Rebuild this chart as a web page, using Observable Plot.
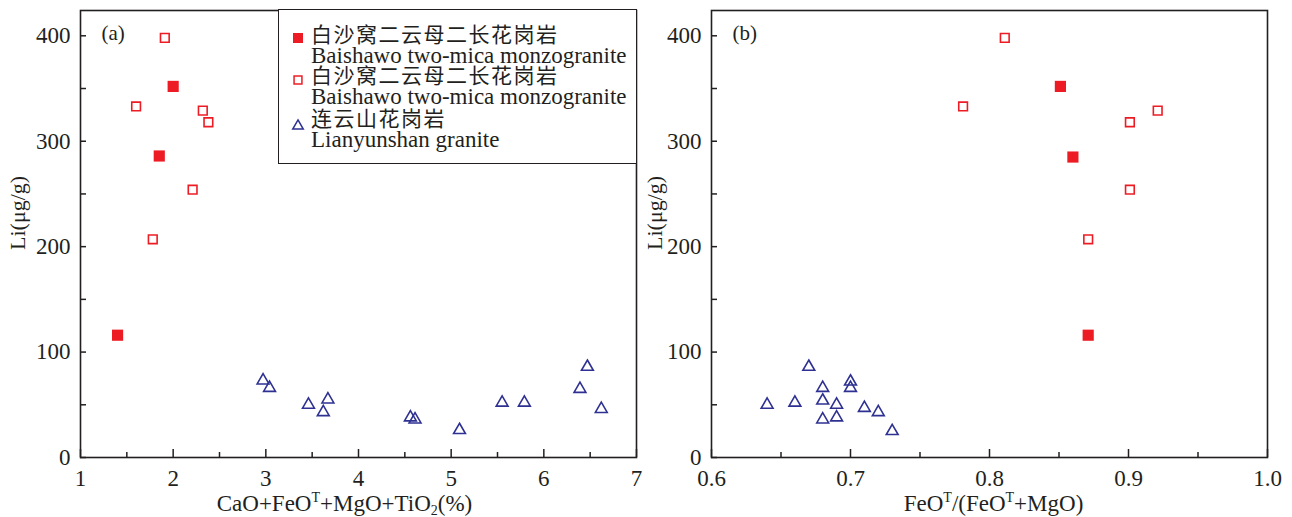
<!DOCTYPE html>
<html><head><meta charset="utf-8">
<script src="https://cdn.jsdelivr.net/npm/d3@7"></script>
<script src="https://cdn.jsdelivr.net/npm/@observablehq/plot@0.6"></script>
<style>
body{margin:0;background:#fff;}
#wrap{position:relative;width:1292px;height:517px;overflow:hidden;background:#fff}
#pa,#pb{position:absolute;top:0}
#pa{left:0}
#pb{left:646px}
#wrap svg text{font-family:"Liberation Serif",serif}
#legend{position:absolute;left:278px;top:9px;width:359px;height:155px;border:1.5px solid #231f20;box-sizing:border-box;background:#fff;color:#231f20}
#legend .zh{position:absolute;left:32px;font-family:"Noto Sans CJK SC",sans-serif;font-size:21px;line-height:20px;letter-spacing:1.5px;white-space:nowrap}
#legend .en{position:absolute;left:32px;font-family:"Liberation Serif",serif;font-size:23px;line-height:20px;white-space:nowrap}
#legend svg{position:absolute}
</style></head>
<body>
<div id="wrap"><div id="pa"></div><div id="pb"></div><div id="legend"></div></div>
<script>
// ---------- data ----------
const seriesNames = ["白沙窝二云母二长花岗岩", "白沙窝二云母二长花岗岩", "连云山花岗岩"];
const seriesNamesEn = ["Baishawo two-mica monzogranite", "Baishawo two-mica monzogranite", "Lianyunshan granite"];

// panel (a): x = CaO+FeOT+MgO+TiO2 (%), y = Li (µg/g)
const aFilledX = [1.40, 1.85, 2.00];
const aFilledY = [116, 286, 352];
const aOpenX = [1.91, 1.60, 2.32, 2.38, 2.21, 1.78];
const aOpenY = [398, 333, 329, 318, 254, 207];
const aTriX = [2.97, 3.04, 3.46, 3.67, 3.62, 4.56, 4.61, 5.09, 5.55, 5.79, 6.39, 6.47, 6.62];
const aTriY = [73, 66, 50, 55, 43, 38, 36, 26, 52, 52, 65, 86, 46];

// panel (b): x = FeOT/(FeOT+MgO), y = Li (µg/g)
const bFilledX = [0.851, 0.860, 0.871];
const bFilledY = [352, 285, 116];
const bOpenX = [0.811, 0.781, 0.921, 0.901, 0.901, 0.871];
const bOpenY = [398, 333, 329, 318, 254, 207];
const bTriX = [0.64, 0.66, 0.67, 0.68, 0.68, 0.68, 0.69, 0.69, 0.70, 0.70, 0.71, 0.72, 0.73];
const bTriY = [50, 52, 86, 66, 54, 36, 50, 38, 72, 66, 47, 43, 25];

// axes
const yTicks = [0, 100, 200, 300, 400];
const yMinor = [50, 150, 250, 350];
const aXTicks = [1, 2, 3, 4, 5, 6, 7];
const aXMinor = [1.5, 2.5, 3.5, 4.5, 5.5, 6.5];
const bXTicks = [0.6, 0.7, 0.8, 0.9, 1.0];
const bXMinor = [0.65, 0.75, 0.85, 0.95];
const yTitle = "Li(μg/g)";
const aXTitleParts = [["CaO+FeO",""],["T","sup"],["+MgO+TiO",""],["2","sub"],["(%)",""]];
const bXTitleParts = [["FeO",""],["T","sup"],["/(FeO",""],["T","sup"],["+MgO)",""]];

// ---------- style ----------
const RED = "#ed1c24", BLUE = "#2e3192", INK = "#231f20";
const H = 517, MT = 10, MB = 60, INNER_H = H - MT - MB;

const zip = (xs, ys) => xs.map((x, i) => ({x, y: ys[i]}));

function panel({xDomain, xTicks, xMinor, filled, open, tri, letter, titleParts, marginLeft, marginRight, fmt, yLabelDx, titleDx}) {
  const W = 646, innerW = W - marginLeft - marginRight;
  const titlePlain = titleParts.map(p => p[0]).join("");
  const svg = Plot.plot({
    width: W, height: H, marginTop: MT, marginBottom: MB, marginLeft, marginRight,
    style: {fontFamily: "'Liberation Serif', serif", fontSize: "22px", color: INK, background: "transparent", overflow: "visible"},
    x: {domain: xDomain, axis: null},
    y: {domain: [0, 424], axis: null},
    marks: [
      Plot.text(xTicks, {x: d => d, text: fmt, frameAnchor: "bottom", lineAnchor: "top", dy: 12, fontSize: 23, fill: INK}),
      Plot.text(yTicks, {y: d => d, text: d => String(d), frameAnchor: "left", textAnchor: "end", lineAnchor: "middle", dx: -10, fontSize: 23, fill: INK}),
      Plot.tickX(xTicks, {x: d => d, insetTop: INNER_H - 8, stroke: INK, strokeWidth: 1.5}),
      Plot.tickX(xMinor, {x: d => d, insetTop: INNER_H - 5, stroke: INK, strokeWidth: 1.5}),
      Plot.tickY(yTicks.concat(yMinor), {y: d => d, insetRight: innerW - 6, stroke: INK, strokeWidth: 1.5}),
      Plot.frame({stroke: INK, strokeWidth: 1.6}),
      Plot.text([letter], {text: d => d, frameAnchor: "top-left", lineAnchor: "middle", dx: 21, dy: 23, textAnchor: "start", fontSize: 21, fill: INK}),
      Plot.text([yTitle], {text: d => d, frameAnchor: "left", lineAnchor: "middle", rotate: -90, dx: yLabelDx, dy: 16, fontSize: 22, fill: INK}),
      Plot.text([titlePlain], {text: d => d, frameAnchor: "bottom", lineAnchor: "middle", dx: titleDx, dy: 46, fontSize: 23, fill: INK}),
      Plot.dot(open, {x: "x", y: "y", symbol: "square", r: 4.9, stroke: RED, strokeWidth: 1.6, fill: "white"}),
      Plot.dot(filled, {x: "x", y: "y", symbol: "square", r: 6.3, fill: RED, stroke: "none"}),
      Plot.dot(tri, {x: "x", y: "y", symbol: "triangle", r: 4.4, stroke: BLUE, strokeWidth: 1.6, fill: "none"})
    ]
  });
  // superscript / subscript in the axis title
  svg.querySelectorAll("text").forEach(t => {
    if (t.textContent === titlePlain) {
      t.textContent = "";
      let shift = 0;
      titleParts.forEach(([s, k]) => {
        const ts = document.createElementNS("http://www.w3.org/2000/svg", "tspan");
        ts.textContent = s;
        const target = k === "sup" ? -9 : k === "sub" ? 4 : 0;
        if (target - shift !== 0) ts.setAttribute("dy", target - shift);
        shift = target;
        if (k) ts.setAttribute("font-size", "14");
        t.appendChild(ts);
      });
    }
  });
  return svg;
}

document.getElementById("pa").appendChild(panel({
  xDomain: [1, 7], xTicks: aXTicks, xMinor: aXMinor,
  filled: zip(aFilledX, aFilledY), open: zip(aOpenX, aOpenY), tri: zip(aTriX, aTriY),
  letter: "(a)", titleParts: aXTitleParts, marginLeft: 80, marginRight: 10, fmt: d => String(d), yLabelDx: -63, titleDx: -14
}));
document.getElementById("pb").appendChild(panel({
  xDomain: [0.6, 1.0], xTicks: bXTicks, xMinor: bXMinor,
  filled: zip(bFilledX, bFilledY), open: zip(bOpenX, bOpenY), tri: zip(bTriX, bTriY),
  letter: "(b)", titleParts: bXTitleParts, marginLeft: 65, marginRight: 25, fmt: d3.format(".1f"), yLabelDx: -57, titleDx: 4
}));

// ---------- legend ----------
const legend = document.getElementById("legend");
const symbols = [
  {type: d3.symbolSquare, size: 100, fill: RED, stroke: "none"},
  {type: d3.symbolSquare, size: 62, fill: "white", stroke: RED},
  {type: d3.symbolTriangle, size: 48, fill: "none", stroke: BLUE}
];
const symTops = [20, 62, 108];
const zhTops = [13, 54, 97];
const enTops = [36, 77, 120];
symbols.forEach((s, i) => {
  const sv = d3.create("svg").attr("width", 16).attr("height", 16)
    .style("left", "11px").style("top", symTops[i] + "px");
  sv.append("path").attr("transform", "translate(8,8)")
    .attr("d", d3.symbol(s.type, s.size)())
    .attr("fill", s.fill).attr("stroke", s.stroke).attr("stroke-width", 1.5);
  legend.appendChild(sv.node());
  const zh = document.createElement("div");
  zh.className = "zh"; zh.style.top = zhTops[i] + "px"; zh.textContent = seriesNames[i];
  legend.appendChild(zh);
  const en = document.createElement("div");
  en.className = "en"; en.style.top = enTops[i] + "px"; en.textContent = seriesNamesEn[i];
  legend.appendChild(en);
});
</script>
</body></html>
